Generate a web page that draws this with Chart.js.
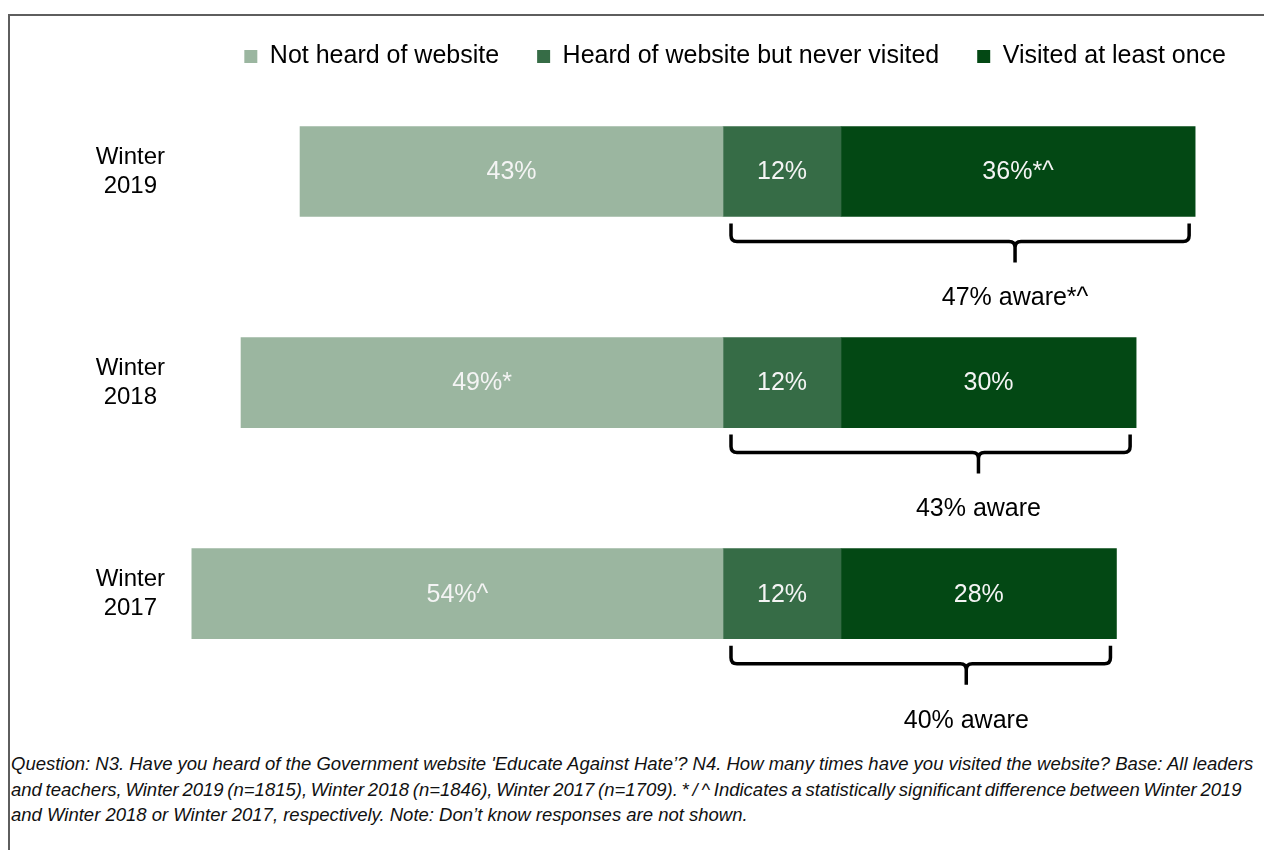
<!DOCTYPE html>
<html>
<head>
<meta charset="utf-8">
<title>Educate Against Hate awareness</title>
<script src="https://cdn.jsdelivr.net/npm/chart.js@4.4.1/dist/chart.umd.min.js"></script>
<style>
    body {
        margin: 0;
        background: #fff;
        font-family: "Liberation Sans", Arial, sans-serif;
    }
    .frame {
        position: absolute;
        left: 8px;
        top: 14px;
        width: 1270px;
        height: 850px;
        border-left: 2px solid #5e5e5e;
        border-top: 2px solid #5e5e5e;
    }
    #awareChart {
        position: absolute;
        left: 0;
        top: 0;
    }
    .note {
        position: absolute;
        left: 11px;
        top: 751px;
        font-size: 18.5px;
        font-style: italic;
        line-height: 25.5px;
        color: #111;
        white-space: nowrap;
    }
    .note .tight {
        word-spacing: -1.4px;
    }
</style>
</head>
<body>
<div class="frame"></div>
<canvas id="awareChart" width="1264" height="745"></canvas>
<div class="note">
    Question: N3. Have you heard of the Government website 'Educate Against Hate’? N4. How many times have you visited the website? Base: All leaders<br>
    <span class="tight">and teachers, Winter 2019 (n=1815), Winter 2018 (n=1846), Winter 2017 (n=1709). * / ^ Indicates a statistically significant difference between Winter 2019</span><br>
    and Winter 2018 or Winter 2017, respectively. Note: Don’t know responses are not shown.
</div>

<script>
// Survey waves (top to bottom)
const waves = [["Winter", "2019"], ["Winter", "2018"], ["Winter", "2017"]];

// Share of respondents (%)
const notHeard = [43, 49, 54];
const heardNotVisited = [12, 12, 12];
const visited = [36, 30, 28];
const aware = [47, 43, 40];

// Significance markers shown after each value
const notHeardMarks = ["", "*", "^"];
const heardMarks = ["", "", ""];
const visitedMarks = ["*^", "", ""];
const awareMarks = ["*^", "", ""];

const seriesNames = ["Not heard of website", "Heard of website but never visited", "Visited at least once"];
const seriesColors = ["#9bb6a0", "#366c46", "#034814"];

Chart.defaults.font.family = '"Liberation Sans", Arial, sans-serif';
Chart.defaults.color = "#000";

// White % labels inside each segment
const valueLabels = {
    id: "valueLabels",
    afterDatasetsDraw(chart) {
        const ctx = chart.ctx;
        const marks = [notHeardMarks, heardMarks, visitedMarks];
        ctx.save();
        ctx.font = '25px "Liberation Sans", Arial, sans-serif';
        ctx.fillStyle = "#f4f4f4";
        ctx.textAlign = "center";
        ctx.textBaseline = "middle";
        chart.data.datasets.forEach((ds, d) => {
            chart.getDatasetMeta(d).data.forEach((bar, i) => {
                const cx = (bar.x + bar.base) / 2;
                ctx.fillText(Math.abs(ds.data[i]) + "%" + marks[d][i], cx, bar.y + 1);
            });
        });
        ctx.restore();
    }
};

// Curly bracket under the "aware" segments with the total below it
const awareBraces = {
    id: "awareBraces",
    afterDatasetsDraw(chart) {
        const ctx = chart.ctx;
        const heardMeta = chart.getDatasetMeta(1);
        const visitedMeta = chart.getDatasetMeta(2);
        ctx.save();
        ctx.strokeStyle = "#000";
        ctx.lineWidth = 3.5;
        ctx.lineJoin = "round";
        ctx.font = '25px "Liberation Sans", Arial, sans-serif';
        ctx.fillStyle = "#000";
        ctx.textAlign = "center";
        ctx.textBaseline = "middle";

        heardMeta.data.forEach((bar, i) => {
            const end = visitedMeta.data[i];
            const bottom = bar.y + bar.height / 2;
            const x1 = bar.base + 8;
            const x2 = end.x - 6;
            const top = bottom + 7;
            const mid = bottom + 25;
            const tipY = bottom + 46;
            const tipX = x1 + (x2 - x1) * 0.62;
            const r = 6;

            ctx.beginPath();
            ctx.moveTo(x1, top);
            ctx.lineTo(x1, mid - r);
            ctx.quadraticCurveTo(x1, mid, x1 + r, mid);
            ctx.lineTo(tipX - r, mid);
            ctx.quadraticCurveTo(tipX, mid, tipX, mid + r);
            ctx.lineTo(tipX, tipY);
            ctx.moveTo(tipX, mid + r);
            ctx.quadraticCurveTo(tipX, mid, tipX + r, mid);
            ctx.lineTo(x2 - r, mid);
            ctx.quadraticCurveTo(x2, mid, x2, mid - r);
            ctx.lineTo(x2, top);
            ctx.stroke();

            ctx.fillText(aware[i] + "% aware" + awareMarks[i], tipX, bottom + 82);
        });
        ctx.restore();
    }
};

const awareCtx = document.getElementById("awareChart");

new Chart(awareCtx, {
    type: "bar",
    data: {
        labels: waves,
        datasets: [
            {
                label: seriesNames[0],
                data: notHeard.map(v => -v),
                backgroundColor: seriesColors[0]
            },
            {
                label: seriesNames[1],
                data: heardNotVisited,
                backgroundColor: seriesColors[1]
            },
            {
                label: seriesNames[2],
                data: visited,
                backgroundColor: seriesColors[2]
            }
        ]
    },
    options: {
        indexAxis: "y",
        responsive: false,
        animation: false,
        events: [],
        datasets: {
            bar: {
                barThickness: 90,
                borderWidth: 0,
                clip: false
            }
        },
        layout: {
            padding: { top: 6, right: 0, bottom: 39, left: 0 }
        },
        plugins: {
            legend: {
                position: "top",
                align: "end",
                maxHeight: 60,
                labels: {
                    boxWidth: 13,
                    boxHeight: 13,
                    padding: 38,
                    color: "#000",
                    font: { size: 25, lineHeight: 1.2 }
                }
            },
            tooltip: { enabled: false }
        },
        scales: {
            x: {
                stacked: true,
                display: false,
                min: -55,
                max: 55
            },
            y: {
                stacked: true,
                grid: { display: false, drawTicks: false },
                border: { display: false },
                afterFit(scale) {
                    scale.width = 182;
                },
                ticks: {
                    crossAlign: "center",
                    padding: 17,
                    color: "#000",
                    font: { size: 24, lineHeight: 1.2 }
                }
            }
        }
    },
    plugins: [valueLabels, awareBraces]
});
</script>
</body>
</html>
